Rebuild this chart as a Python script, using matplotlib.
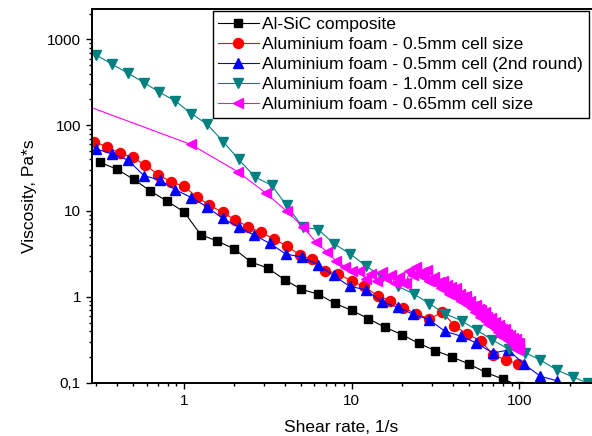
import matplotlib
matplotlib.use('Agg')
import matplotlib.pyplot as plt
from matplotlib.ticker import LogLocator, FuncFormatter, NullFormatter, FixedLocator

plt.rcParams['font.family'] = ['Liberation Sans', 'DejaVu Sans']

# ---- data ----
sic_x = [0.316, 0.398, 0.501, 0.631, 0.794, 1.0, 1.26, 1.58, 2.0, 2.51, 3.16, 3.98, 5.01,
         6.31, 7.94, 10.0, 12.6, 15.8, 20.0, 25.1, 31.6, 39.8, 50.1, 63.1, 79.4, 100.0]
sic_y = [36.8, 30.8, 23.4, 17.1, 13.0, 9.79, 5.28, 4.46, 3.60, 2.54, 2.16, 1.58, 1.22,
         1.075, 0.838, 0.694, 0.554, 0.440, 0.361, 0.286, 0.235, 0.198, 0.164, 0.131, 0.110, 0.092]

foam05_x = [0.292, 0.346, 0.415, 0.494, 0.588, 0.703, 0.840, 1.00, 1.19, 1.42, 1.70, 2.02,
            2.42, 2.88, 3.46, 4.11, 4.92, 5.84, 6.93, 8.32, 10.0, 11.8, 14.3, 16.9, 20.3,
            24.2, 29.0, 34.8, 40.8, 48.8, 58.8, 69.9, 83.2, 98.5]
foam05_y = [64.4, 56.3, 47.3, 42.2, 34.3, 26.6, 21.7, 19.5, 14.6, 11.7, 9.63, 7.90, 6.54,
            5.63, 4.70, 3.90, 3.06, 2.73, 2.02, 1.86, 1.52, 1.32, 1.03, 0.898, 0.738, 0.637,
            0.550, 0.663, 0.462, 0.367, 0.307, 0.209, 0.183, 0.164]

foam05b_x = [0.299, 0.372, 0.464, 0.577, 0.719, 0.890, 1.108, 1.371, 1.70, 2.12, 2.61, 3.26,
             4.04, 5.03, 6.28, 7.81, 9.73, 12.1, 15.1, 18.8, 23.3, 29.0, 36.0, 44.8, 55.5,
             69.3, 86.1, 106.5, 133.6, 167.0]
foam05b_y = [52.9, 46.4, 39.2, 25.9, 22.9, 17.7, 14.3, 11.2, 8.20, 6.49, 5.24, 4.19, 3.15,
             2.90, 2.36, 1.77, 1.32, 1.21, 0.874, 0.755, 0.625, 0.540, 0.395, 0.348, 0.289,
             0.221, 0.239, 0.164, 0.118, 0.105]

foam10_x = [0.299, 0.374, 0.464, 0.577, 0.714, 0.887, 1.105, 1.38, 1.72, 2.12, 2.65, 3.33,
            4.10, 5.10, 6.32, 7.84, 9.77, 12.2, 15.2, 18.8, 23.5, 29.1, 36.1, 45.2, 55.9,
            69.1, 86.7, 108.0, 133.0, 167.0, 208.0, 256.0]
foam10_y = [661, 513, 405, 314, 243, 192, 137, 102, 64.0, 39.9, 25.0, 19.9, 11.6, 6.54, 6.07,
            4.15, 3.17, 2.28, 1.70, 1.33, 1.075, 0.829, 0.634, 0.524, 0.406, 0.313, 0.244,
            0.222, 0.184, 0.140, 0.116, 0.0987]

foam065_x = [0.1, 1.1, 2.1, 3.1, 4.1, 5.1, 6.1, 7.1, 8.1, 9.1, 10.1, 11.1, 12.1, 13.1, 14.1,
             15.1, 16.1, 17.1, 18.1, 19.1, 20.1, 21.1, 22.1, 23.1, 24.1, 25.1, 26.1, 27.1,
             28.1, 29.1, 30.1, 31.1, 32.1, 33.1, 34.1, 35.1, 36.1, 37.1, 38.1, 39.1, 40.1,
             41.1, 42.1, 43.1, 44.1, 45.1, 46.1, 47.1, 48.1, 49.1, 50.1, 51.1, 52.1, 53.1,
             54.1, 55.1, 56.1, 57.1, 58.1, 59.1, 60.1, 61.1, 62.1, 63.1, 64.1, 65.1, 66.1,
             67.1, 68.1, 69.1, 70.1, 71.1, 72.1, 73.1, 74.1, 75.1, 76.1, 77.1, 78.1, 79.1,
             80.1, 81.1, 82.1, 83.1, 84.1, 85.1, 86.1, 87.1, 88.1, 89.1, 90.1, 91.1, 92.1,
             93.1, 94.1, 95.1, 96.1, 97.1, 98.1, 99.1, 100.1]
foam065_y = [340, 59.7, 28.6, 16.0, 9.97, 6.58, 4.38, 3.35, 2.61, 2.24, 1.99, 1.99, 1.61,
             1.84, 1.52, 1.94, 1.65, 1.79, 1.44, 1.70, 1.44, 1.44, 1.99, 1.79, 2.22, 1.84,
             1.94, 1.70, 2.05, 1.52, 1.61, 1.68, 1.39, 1.49, 1.26, 1.52, 1.29, 1.36, 1.09,
             1.31, 1.11, 1.13, 1.25, 0.974, 1.08, 0.891, 0.987, 0.884, 1.01, 0.811, 0.849,
             0.891, 0.732, 0.789, 0.668, 0.802, 0.681, 0.715, 0.575, 0.694, 0.590, 0.602,
             0.671, 0.528, 0.588, 0.487, 0.543, 0.489, 0.559, 0.450, 0.478, 0.504, 0.419,
             0.455, 0.390, 0.472, 0.402, 0.427, 0.346, 0.421, 0.361, 0.373, 0.418, 0.331,
             0.370, 0.310, 0.347, 0.315, 0.362, 0.295, 0.314, 0.334, 0.279, 0.305, 0.262,
             0.319, 0.275, 0.292, 0.238, 0.290, 0.250]

labels = ["Al-SiC composite",
          "Aluminium foam - 0.5mm cell size",
          "Aluminium foam - 0.5mm cell (2nd round)",
          "Aluminium foam - 1.0mm cell size",
          "Aluminium foam - 0.65mm cell size"]

x_major = [1, 10, 100]
y_major = [0.1, 1, 10, 100, 1000]

# ---- figure ----
W, H = 592, 436
fig = plt.figure(figsize=(W / 100, H / 100), dpi=100)
L, R, T, B = 92, 591, 9, 382.5
ax = fig.add_axes([L / W, (H - B) / H, (R - L) / W, (B - T) / H])

lw = 0.8
ax.plot(sic_x, sic_y, color='black', marker='s', ms=6, lw=lw, label=labels[0])
ax.plot(foam05_x, foam05_y, color='#ff0000', marker='o', ms=7.2, lw=lw, label=labels[1])
ax.plot(foam05b_x, foam05b_y, color='#0000ff', marker='^', ms=7.5, lw=lw, label=labels[2])
ax.plot(foam10_x, foam10_y, color='#008080', marker='v', ms=7.5, lw=lw, label=labels[3])
ax.plot(foam065_x, foam065_y, color='#ff00ff', marker='<', ms=7.5, lw=lw, label=labels[4])

ax.set_xscale('log')
ax.set_yscale('log')
ax.set_xlim(0.283, 267.3)
ax.set_ylim(0.1, 2267)

ax.xaxis.set_major_locator(FixedLocator(x_major))
ax.yaxis.set_major_locator(FixedLocator(y_major))
ax.xaxis.set_minor_locator(LogLocator(base=10, subs=range(2, 10), numticks=20))
ax.yaxis.set_minor_locator(LogLocator(base=10, subs=range(2, 10), numticks=20))
fmt = FuncFormatter(lambda v, p: ('%g' % v).replace('.', ','))
ax.xaxis.set_major_formatter(fmt)
ax.yaxis.set_major_formatter(fmt)
ax.xaxis.set_minor_formatter(NullFormatter())
ax.yaxis.set_minor_formatter(NullFormatter())

ax.tick_params(which='major', direction='out', length=4.5, width=1.0, labelsize=11,
               colors='black', top=False, right=False)
ax.tick_params(which='minor', direction='out', length=2.5, width=1.0, top=False, right=False)

for s in ['left', 'bottom', 'top']:
    ax.spines[s].set_linewidth(1.4)
ax.spines['right'].set_visible(False)

ax.set_xlabel('Shear rate, 1/s', fontsize=12.5, labelpad=9)
ax.set_ylabel('Viscosity, Pa*s', fontsize=12.5, labelpad=7)

leg = ax.legend(loc='upper left', bbox_to_anchor=(0.2419, 0.9946), borderaxespad=0,
                fontsize=12.6, frameon=True, fancybox=False, framealpha=1,
                edgecolor='black', handlelength=2.3, handletextpad=0.2,
                labelspacing=0.28, borderpad=0.32, numpoints=1)
leg.get_frame().set_linewidth(1.0)

fig.savefig('out.png', dpi=100)
